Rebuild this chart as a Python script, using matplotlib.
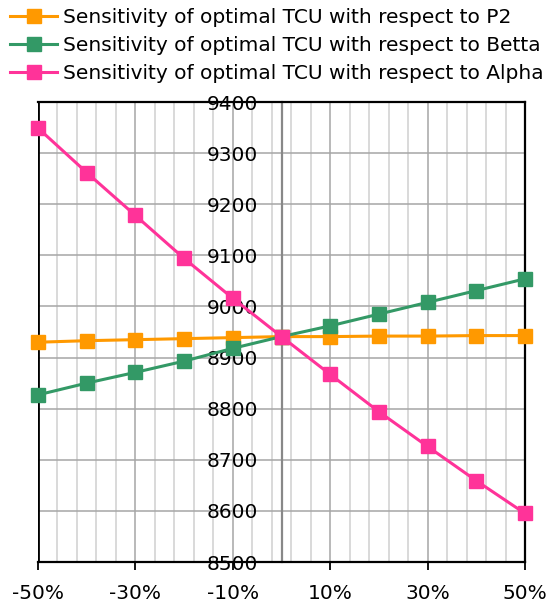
import matplotlib
matplotlib.use("Agg")
import matplotlib.pyplot as plt
from matplotlib.ticker import MultipleLocator, PercentFormatter

# parameter change relative to the base case
change = [-0.5, -0.4, -0.3, -0.2, -0.1, 0.0, 0.1, 0.2, 0.3, 0.4, 0.5]

tcu_p2 = [8930, 8933, 8935, 8937, 8939, 8941, 8941, 8942, 8942, 8943, 8943]
tcu_betta = [8827, 8850, 8871, 8893, 8918, 8941, 8962, 8985, 9008, 9031, 9054]
tcu_alpha = [9349, 9262, 9178, 9094, 9016, 8941, 8867, 8794, 8726, 8659, 8595]

labels = [
    "Sensitivity of optimal TCU with respect to P2",
    "Sensitivity of optimal TCU with respect to Betta",
    "Sensitivity of optimal TCU with respect to Alpha",
]
colors = ["#FF9900", "#339966", "#FF3399"]

plt.rcParams["font.family"] = "DejaVu Sans"
plt.rcParams["font.size"] = 14.5
plt.rcParams["axes.unicode_minus"] = False

fig = plt.figure(figsize=(5.56, 6.08), dpi=100)
ax = fig.add_axes([38 / 556, 46 / 608, 487 / 556, 460 / 608])

for ys, c, lab in zip([tcu_p2, tcu_betta, tcu_alpha], colors, labels):
    ax.plot(change, ys, color=c, lw=2.2, marker="s", ms=9.5, mec=c, label=lab,
            zorder=3, clip_on=False)

ax.set_xlim(-0.5, 0.5)
ax.set_ylim(8500, 9400)

ax.xaxis.set_major_locator(MultipleLocator(0.2, offset=0.1))
ax.xaxis.set_minor_locator(MultipleLocator(0.04, offset=-0.5))
ax.xaxis.set_major_formatter(PercentFormatter(1.0, decimals=0))
ax.yaxis.set_major_locator(MultipleLocator(100))

ax.grid(which="minor", axis="x", color="#cfcfcf", lw=1.1, zorder=0)
ax.grid(which="major", axis="x", color="#a6a6a6", lw=1.1, zorder=0)
ax.grid(which="major", axis="y", color="#a6a6a6", lw=1.1, zorder=0)
ax.set_axisbelow(True)

# value axis crosses at zero, frame stays black
ax.spines["left"].set_position(("data", 0))
ax.spines["left"].set_color("#888888")
ax.spines["left"].set_linewidth(1.6)
ax.spines["left"].set_zorder(1)
for side in ["top", "right", "bottom"]:
    ax.spines[side].set_linewidth(1.6)
ax.axvline(ax.get_xlim()[0], color="black", lw=2.0, zorder=2)

ax.tick_params(axis="y", length=0, pad=17)
ax.tick_params(axis="x", which="major", length=6, width=1.3, pad=10)
ax.tick_params(axis="x", which="minor", length=0)

fig.legend(loc="upper left", bbox_to_anchor=(10 / 556, 1 - 8 / 608), frameon=False,
           handlelength=2.35, handletextpad=0.3, labelspacing=0.45,
           borderpad=0.0, borderaxespad=0.0, fontsize=14.5)

fig.savefig("out.png", dpi=100)
